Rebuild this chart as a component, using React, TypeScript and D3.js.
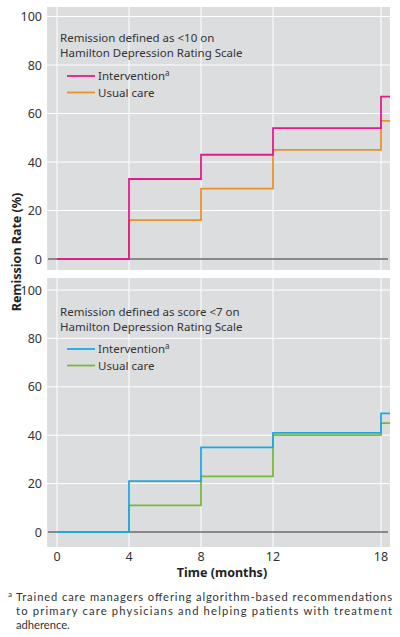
import React from "react";
import * as d3 from "d3";

const months = [0, 4, 8, 12, 18];
const xTickLabels = ["0", "4", "8", "12", "18"];
const yTicks = [0, 20, 40, 60, 80, 100];

const hamd10Intervention = [0, 33, 43, 54, 67];
const hamd10UsualCare = [0, 16, 29, 45, 57];
const hamd7Intervention = [0, 21, 35, 41, 49];
const hamd7UsualCare = [0, 11, 23, 40, 45];

const seriesNames = ["Intervention", "Usual care"];

const FONT = "'Noto Sans', 'Open Sans', sans-serif";
const NOTE_FONT = "Lato, 'Noto Sans', sans-serif";

const x = d3.scaleLinear().domain([0, 18]).range([57, 381]);
const xEnd = 18.5;
const xStart = -0.55;

type PanelProps = {
  top: number;
  zeroY: number;
  hundredY: number;
  bottom: number;
  title: string[];
  a: number[];
  b: number[];
  colorA: string;
  colorB: string;
  textY: number;
  legendY: number;
};

function Panel(p: PanelProps) {
  const y = d3.scaleLinear().domain([0, 100]).range([p.zeroY, p.hundredY]);
  const line = d3
    .line<[number, number]>()
    .x((d) => x(d[0]))
    .y((d) => y(d[1]))
    .curve(d3.curveStepAfter);
  const mk = (vals: number[]): [number, number][] => {
    const pts: [number, number][] = months.map((m, i) => [m, vals[i]]);
    pts.push([xEnd, vals[vals.length - 1]]);
    return pts;
  };
  const left = x(xStart);
  const right = x(xEnd);
  return (
    <g>
      <rect x={left} y={p.top} width={right - left} height={p.bottom - p.top} fill="#dcdddf" />
      {yTicks.filter((t) => t > 0).map((t) => (
        <line key={"h" + t} x1={left} x2={right} y1={y(t)} y2={y(t)} stroke="#fff" strokeWidth={1} />
      ))}
      {months.map((m) => (
        <line key={"v" + m} x1={x(m)} x2={x(m)} y1={p.top} y2={p.bottom} stroke="#fff" strokeWidth={1} />
      ))}
      {yTicks.map((t) => (
        <text key={"yl" + t} x={42} y={y(t) + 4.5} textAnchor="end" fontSize={12.5} fill="#333" fontFamily={FONT}>
          {t}
        </text>
      ))}
      <line x1={left + 1} x2={right - 2} y1={y(0)} y2={y(0)} stroke="#6b6b6b" strokeWidth={1.6} />
      <path d={line(mk(p.b)) || ""} fill="none" stroke={p.colorB} strokeWidth={1.8} />
      <path d={line(mk(p.a)) || ""} fill="none" stroke={p.colorA} strokeWidth={1.8} />
      {p.title.map((t, i) => (
        <text key={"t" + i} x={60} y={p.textY + i * 15} fontSize={11.5} fill="#333" fontFamily={FONT}>
          {t}
        </text>
      ))}
      {[p.colorA, p.colorB].map((c, i) => (
        <g key={"lg" + i}>
          <line x1={67} x2={95} y1={p.legendY + i * 16.5} y2={p.legendY + i * 16.5} stroke={c} strokeWidth={1.8} />
          <text x={98} y={p.legendY + i * 16.5 + 4} fontSize={11.5} fill="#333" fontFamily={FONT}>
            {seriesNames[i]}
            {i === 0 ? (
              <tspan fontSize={8} dy={-4}>a</tspan>
            ) : null}
          </text>
        </g>
      ))}
    </g>
  );
}

export default function App() {
  return (
    <svg width={400} height={637} style={{ position: "absolute", left: 0, top: 0, background: "#fff" }}>
      <Panel
        top={7}
        bottom={270}
        zeroY={259}
        hundredY={16.5}
        title={["Remission defined as <10 on", "Hamilton Depression Rating Scale"]}
        a={hamd10Intervention}
        b={hamd10UsualCare}
        colorA="#e8198b"
        colorB="#e8922e"
        textY={42}
        legendY={76}
      />
      <Panel
        top={278}
        bottom={547}
        zeroY={532}
        hundredY={290}
        title={["Remission defined as score <7 on", "Hamilton Depression Rating Scale"]}
        a={hamd7Intervention}
        b={hamd7UsualCare}
        colorA="#1fa8e0"
        colorB="#7ab83a"
        textY={316}
        legendY={349}
      />
      {months.map((m, i) => (
        <text key={"xl" + m} x={x(m)} y={560.5} textAnchor="middle" fontSize={12.5} fill="#333" fontFamily={FONT}>
          {xTickLabels[i]}
        </text>
      ))}
      <text x={222} y={576.5} textAnchor="middle" fontSize={12.5} fontWeight="bold" fill="#222" fontFamily={FONT}>
        Time (months)
      </text>
      <text
        transform="translate(21,252) rotate(-90)"
        textAnchor="middle"
        fontSize={12.5}
        fontWeight="bold"
        fill="#222"
        fontFamily={FONT}
      >
        Remission Rate (%)
      </text>
      <text x={8} y={597} fontSize={8} fill="#333" fontFamily={NOTE_FONT}>a</text>
      <text x={16} y={601} fontSize={11.2} fill="#333" fontFamily={NOTE_FONT} textLength={376} lengthAdjust="spacing">
        Trained care managers offering algorithm-based recommendations
      </text>
      <text x={16} y={615} fontSize={11.2} fill="#333" fontFamily={NOTE_FONT} textLength={376} lengthAdjust="spacing">
        to primary care physicians and helping patients with treatment
      </text>
      <text x={16} y={629} fontSize={11.2} fill="#333" fontFamily={NOTE_FONT}>
        adherence.
      </text>
    </svg>
  );
}
